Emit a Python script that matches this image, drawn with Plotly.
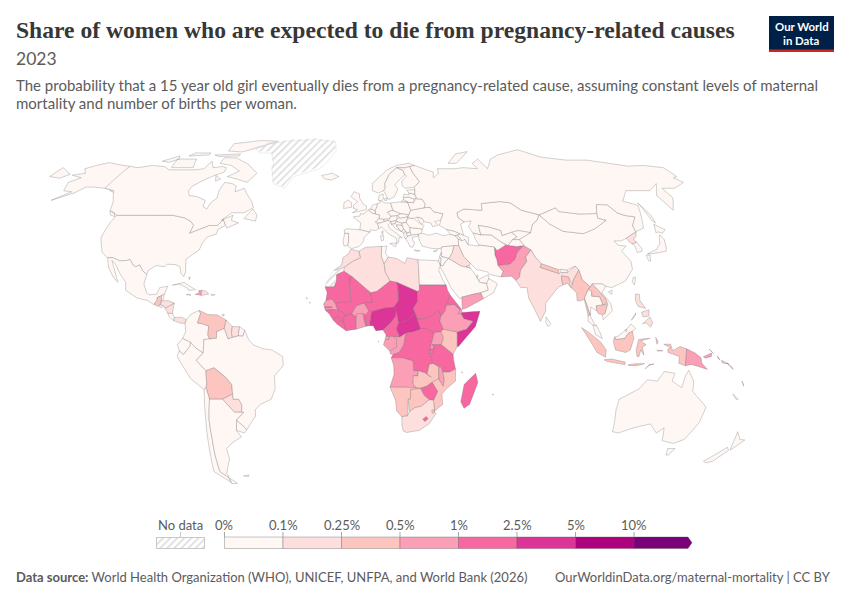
import base64
import numpy as np
import plotly.graph_objects as go

# NOTE: no basemap can be loaded offline, so GEOM below holds hand-approximated,
# simplified country outlines (lon,lat). They are not authoritative boundaries.

W, H = 850, 600
TITLE = "Share of women who are expected to die from pregnancy-related causes"
YEAR = "2023"
SUB1 = "The probability that a 15 year old girl eventually dies from a pregnancy-related cause, assuming constant levels of maternal"
SUB2 = "mortality and number of births per woman."
SOURCE = "<b>Data source:</b> World Health Organization (WHO), UNICEF, UNFPA, and World Bank (2026)"
SITE = "OurWorldinData.org/maternal-mortality | CC BY"

bin_edges = [0.1, 0.25, 0.5, 1, 2.5, 5, 10]
bin_labels = ["0%", "0.1%", "0.25%", "0.5%", "1%", "2.5%", "5%", "10%"]
bin_colors = ["#fff7f3", "#fde0dd", "#fcc5c0", "#fa9fb5", "#f768a1", "#dd3497", "#ae017e", "#7a0177"]

africa_codes = ["MAR","DZA","TUN","LBY","EGY","MRT","MLI","NER","TCD","SDN","SSD","NGA","SEN","GMB","GNB","GIN","SLE","LBR","CIV","GHA","TGO","BEN","BFA","CMR","CAF","GNQ","GAB","COG","COD","UGA","KEN","RWA","BDI","SOM","ETH","ERI","DJI","TZA","AGO","ZMB","MWI","MOZ","ZWE","NAM","BWA","ZAF","LSO","SWZ","MDG","CPV","COM","STP","MUS"]
africa_share = [.2,.15,.08,.15,.07,2.0,1.9,2.2,3.2,1.5,1.9,3.0,.7,1.1,1.5,1.7,1.5,1.5,1.3,.7,1.0,1.6,.9,1.2,3.5,.7,.6,.8,1.9,.8,.45,.6,1.2,3.3,.8,1.1,.7,1.4,.8,.4,.6,.4,1.1,.35,.4,.2,1.5,.35,1.3,.05,.5,.2,.05]
asia_codes = ["AFG","PAK","IND","NPL","BTN","BGD","LKA","MMR","THA","LAO","KHM","VNM","MYS","BRN","IDN","PHL","TLS","PNG","SLB","VUT","FJI","NCL","CHN","MNG","PRK","KOR","JPN","TWN","KAZ","UZB","TKM","KGZ","TJK","IRN","IRQ","SYR","JOR","LBN","ISR","SAU","KWT","QAT","ARE","OMN","YEM","GEO","AZE","ARM","TUR","CYP"]
asia_share = [1.8,.8,.17,.4,.09,.3,.03,.4,.04,.4,.4,.05,.04,.03,.35,.2,.4,.9,.4,.35,.09,.02,.02,.06,.15,.01,.01,.01,.03,.05,.03,.09,.08,.05,.15,.08,.05,.05,.01,.02,.01,.01,.01,.05,.7,.05,.06,.03,.03,.01]
america_codes = ["USA","CAN","MEX","GTM","BLZ","SLV","HND","NIC","CRI","PAN","CUB","HTI","DOM","JAM","PRI","BHS","TTO","COL","VEN","GUY","SUR","GUF","ECU","PER","BOL","PRY","CHL","ARG","URY","BRA","FLK"]
america_share = [.04,.02,.06,.3,.08,.05,.15,.15,.04,.15,.08,.7,.2,.15,.01,.08,.05,.08,.3,.2,.2,.01,.08,.07,.4,.13,.01,.05,.03,.06,.01]
europe_codes = ["ISL","IRL","GBR","NOR","SWE","FIN","DNK","DEU","NLD","BEL","FRA","ESP","PRT","CHE","ITA","AUT","CZE","POL","SVK","HUN","SVN","HRV","BIH","SRB","MNE","ALB","MKD","GRC","BGR","ROU","MDA","UKR","BLR","LTU","LVA","EST","RUS","AUS","NZL"]
europe_share = [.01,.01,.01,.01,.01,.01,.01,.01,.01,.01,.01,.01,.01,.01,.01,.01,.01,.01,.01,.01,.01,.01,.01,.02,.01,.02,.02,.01,.02,.03,.02,.03,.01,.01,.01,.01,.02,.01,.01]
no_data_codes = ["GRL","ESH"]

GEOM = {
"CAN":["-141,69.6 -135,69 -128,70 -120,69.5 -115,68 -108,68 -100,68 -95,68.5 -94,72 -90,69 -85,69.5 -82,69 -81.5,67 -87,65 -90,63.5 -94,61 -94.5,59 -92.5,57 -88,56.5 -82.5,55 -82,52.5 -79.5,51.5 -79,54 -77,56 -78,59 -77.5,62.5 -73,62 -70,61 -69,58.5 -65,60 -62,57.5 -58,54.5 -56,52 -60,50 -66,50 -70,47 -65,49 -65,47 -61,46 -66,44 -67,45 -69,47.3 -71,45 -75,45 -79,43.5 -83,42 -82.5,45 -84.5,46.5 -88.5,48 -95,49 -123,49 -128,51 -130,54.5 -135,59 -141,60",
"-80,73.5 -70,70.5 -62,66.5 -65,62.5 -72,64 -78,65 -73,67.5 -80,70 -88,71 -88,73.7","-117,73 -105,73 -102,69 -115,69","-90,77 -80,76.5 -72,79 -62,82.5 -75,83 -92,81","-125,72 -118,74.5 -116,73 -120,71.5","-96,75 -80,75.5 -80,74.5 -93,74.3","-59,47.7 -53,46.7 -53,49 -56,51.5","-128,50.7 -125,50 -123.5,48.5 -126,49","-110,76 -100,76 -100,75 -112,74.5","-85,65.5 -81,64 -83,63"],
"USA":["-123,49 -95,49 -88.5,48 -84.5,46.5 -82.5,45 -83,42 -79,43.5 -75,45 -71,45 -69,47.3 -67,45 -70,43.5 -70,41.7 -74,40.5 -75.5,38 -76,35.5 -81,32 -80,27 -80.5,25.2 -82,26.5 -83,29 -85,29.8 -89,30 -90,29 -94,29.5 -97,27.5 -97.2,26 -99.5,27.5 -101.5,29.7 -103,29 -104.5,29.7 -106.5,31.8 -108.2,31.4 -111,31.3 -114.8,32.5 -117.1,32.5 -120.5,34.5 -122.5,37.5 -124.3,40.4 -124,46",
"-141,69.6 -148,70.3 -156.5,71.3 -162,70 -166,68.5 -162,66.5 -168,65.6 -161,64.5 -165,62.5 -162,59 -157,58.5 -163,55 -155,58 -152,60.5 -148,60.5 -141,60 -135,59 -130,55.5 -133,58 -137,59","-155.9,20 -155,19.7 -155.6,19","-158.3,21.6 -157.7,21.3 -158,21.2"],
"GRL":["-73,78 -66,81 -55,82.5 -35,83.6 -20,82 -18,77 -22,72 -26,68.5 -40,65 -43,60 -50,62 -54,68 -55,71 -60,76 -68,76"],
"MEX":["-117.1,32.5 -114.8,32.5 -111,31.3 -108.2,31.4 -106.5,31.8 -104.5,29.7 -103,29 -101.5,29.7 -99.5,27.5 -97.2,26 -97.8,22.5 -96,19 -94.5,18.2 -91.5,18.5 -90.5,21 -87,21.5 -88,18.5 -89.2,17.9 -91,17.2 -91,16 -92.2,14.5 -95,16 -100,17 -105.5,20 -106,23 -109.5,26.5 -112.5,30 -114.7,31.5 -112,27.5 -109.5,23 -112,25 -115,28.5"],
"GTM":["-92.2,14.5 -91,16 -91,17.2 -89.2,17.9 -89,15.8 -89.3,14.4 -90.5,13.9"],
"BLZ":["-89.2,17.9 -88,18.5 -88.3,16.2 -89,15.9"],
"SLV":["-90,13.8 -89.3,14.4 -87.8,13.9 -88.5,13.2"],
"HND":["-89.3,14.4 -89,15.8 -86,16 -83.2,15 -85,14 -87,13 -87.8,13.9"],
"NIC":["-87,13 -85,14 -83.2,15 -83.7,11 -85.7,11.1"],
"CRI":["-85.7,11.1 -83.7,11 -82.6,9.5 -83,8.3 -85,9.8"],
"PAN":["-83,8.3 -82.6,9.5 -79.5,9.6 -77.3,8.6 -77.9,7.3 -80,7.3"],
"CUB":["-85,21.9 -80,23 -74.5,20.2 -77.5,19.9 -78,20.7 -82,22.4"],
"HTI":["-74.4,18.4 -71.7,18 -71.7,19.9 -73,19.9 -72.8,18.9"],
"DOM":["-71.7,18 -68.4,18.5 -69.9,19.7 -71.7,19.9"],
"JAM":["-78.3,18.3 -76.2,18 -77,18.5"],
"PRI":["-67.2,18.5 -65.6,18.3 -66,18 -67.2,18"],
"BHS":["-78.2,25 -77.7,24 -77.5,25"],
"TTO":["-61.9,10.1 -61,10.1 -61,10.8 -61.7,10.7"],
"COL":["-77.3,8.6 -75.5,10.8 -72,12.2 -71.3,11 -72.5,7.4 -70,7 -67.5,6.2 -67.8,2.8 -67,1.2 -69.5,1 -69.5,-1 -69.9,-4.2 -73,-2.3 -75.3,-0.1 -78.8,1.4 -77.5,4 -77.9,7.3"],
"VEN":["-71.3,11 -72,12.2 -68,10.6 -64,10.5 -60,8.5 -60.7,5.2 -64,4 -64,1.5 -67,1.2 -67.8,2.8 -67.5,6.2 -70,7 -72.5,7.4"],
"GUY":["-60,8.5 -57.2,6 -57.5,3.4 -57,1.8 -59,1.2 -60.7,5.2"],
"SUR":["-57.2,6 -54,5.9 -54.5,2.4 -57,1.8 -57.5,3.4"],
"GUF":["-54,5.9 -51.7,4.5 -52.5,2.3 -54.5,2.4"],
"ECU":["-78.8,1.4 -75.3,-0.1 -75.5,-1.6 -78.5,-4.8 -80.3,-3.4 -81,-1"],
"PER":["-80.3,-3.4 -78.5,-4.8 -75.5,-1.6 -75.3,-0.1 -73,-2.3 -69.9,-4.2 -73,-7 -70.5,-9.5 -69,-11 -69,-16 -69.5,-17.5 -70.4,-18.3 -76,-14 -81.3,-5.5"],
"BOL":["-69,-11 -65.4,-9.8 -60.5,-13.5 -58,-16.3 -58,-20 -62.7,-22 -66.3,-22 -68.5,-22 -69.5,-17.5 -69,-16"],
"PRY":["-58,-20 -62.7,-22 -58,-27 -54.7,-27 -54.3,-24 -55.5,-22 -57.9,-22"],
"CHL":["-70.4,-18.3 -69.5,-17.5 -68.5,-22 -70,-30 -70.5,-37 -71.5,-44 -72,-50 -69,-52.3 -68.5,-54.5 -75,-50 -73,-40 -71.5,-30"],
"ARG":["-66.3,-22 -62.7,-22 -58,-27 -54.7,-27 -53.8,-27 -57.5,-30 -58.4,-34 -56.7,-36.5 -62,-39 -65,-41 -65,-45 -69,-50.8 -68.5,-52.3 -69,-52.3 -72,-50 -71.5,-44 -70.5,-37 -70,-30 -68.5,-22","-68.5,-52.6 -65.5,-54.8 -68.5,-54.9"],
"URY":["-57.5,-30 -53.5,-33.7 -54.9,-35 -58.4,-34"],
"BRA":["-51.7,4.5 -50,1 -48,-1 -44,-2.5 -40,-3 -35.2,-5.5 -35,-9 -39,-13 -39,-18 -41,-22 -46,-24 -48.5,-26 -48.7,-28.5 -53.5,-33.7 -57.5,-30 -53.8,-27 -54.7,-27 -54.3,-24 -55.5,-22 -57.9,-22 -58,-20 -58,-16.3 -60.5,-13.5 -65.4,-9.8 -69,-11 -70.5,-9.5 -73,-7 -69.9,-4.2 -69.5,-1 -69.5,1 -67,1.2 -64,1.5 -64,4 -60.7,5.2 -59,1.2 -57,1.8 -54.5,2.4 -52.5,2.3"],
"FLK":["-61,-51.8 -58,-51.4 -58.5,-52"],
"ISL":["-24,65.5 -18,66.5 -14,65 -18,63.5 -22,64"],
"IRL":["-10,54 -8,55.2 -6,54 -6,52.2 -10,51.7"],
"GBR":["-5.5,50 1.5,51.2 1.7,52.7 0,53.5 -2,56 -2,57.6 -5,58.6 -6.5,56.5 -3,54.5 -5,53 -5,51.7 -3,51.3"],
"NOR":["5,59 5,62 14,68 20,70 28,71 31,70 28,69.5 25,68.9 20,69 15,66 12,62 12,60 11,59 8,58"],
"SWE":["11,59 12,60 12,62 15,66 20,69 23.5,67.8 24,65.8 21,64 17.5,61.5 18.8,59.7 16.5,56.5 14,55.5 13,55.5"],
"FIN":["20,69 25,68.9 28,69.5 29,66.5 31.5,62.8 28,60.5 23,60 21.5,61 21.5,63 25,65.3 24,65.8 23.5,67.8"],
"DNK":["8,55 8.3,57 10.6,57.7 10.5,55.5 9.5,54.8","11,55.7 12.5,56 12.3,55 11,55"],
"DEU":["7,53.6 8.7,54 8.5,54.9 9.5,54.8 11,54 14.2,53.9 14.7,52 15,51 12.2,50.3 13.8,48.7 13,47.5 10,47.4 7.6,47.6 8.2,49 6.2,49.5 6,51 7,52.5"],
"NLD":["3.4,51.4 4.7,53 7,53.6 7,52.5 6,51 5.8,50.8 4.5,51.4"],
"BEL":["2.5,51.1 3.4,51.4 4.5,51.4 5.8,50.8 6,50.2 5.8,49.5 4.2,50"],
"FRA":["2.5,51.1 4.2,50 5.8,49.5 6.2,49.5 8.2,49 7.6,47.6 6,46.3 7,45.9 7.5,43.8 6,43 3.5,43.3 3.2,42.4 -1.7,43.3 -1.2,46 -4.5,47.9 -4.7,48.5 -1.6,48.7 -1.5,49.7 0.2,49.5","8.6,42.5 9.5,42.9 9.3,41.4"],
"ESP":["-1.7,43.3 3.2,42.4 0.5,40.5 0,38.7 -2,36.8 -5.5,36 -7.4,37.2 -7,38.5 -7,41.9 -8.9,41.9 -9.2,43.2 -8,43.7"],
"PRT":["-8.9,41.9 -7,41.9 -7,38.5 -7.4,37.2 -9,37 -9.5,38.8"],
"CHE":["6,46.3 7.6,47.6 10,47.4 10.4,46.6 8.5,46 7,45.9"],
"ITA":["7,45.9 8.5,46 10.4,46.6 12.2,47 13.7,46.5 12.3,45.3 12.5,44 16,41.9 18.5,40.2 17,40.5 16.6,38.5 15.7,38 15.7,40 12.5,41.5 10.5,43 8.8,44.4 7.5,43.8","12.4,38 15.6,38.2 15,36.7","8.2,41 9.7,41 9.5,39.2 8.5,39"],
"AUT":["10,47.4 13,47.5 13.8,48.7 17,48.9 16.3,47 13.7,46.5 12.2,47 10.4,46.6"],
"CZE":["12.2,50.3 15,51 18.8,49.6 17,48.9 13.8,48.7"],
"POL":["14.2,53.9 19,54.4 23,54.3 24,51 22.8,49.2 18.8,49.6 15,51 14.7,52"],
"SVK":["17,48.9 18.8,49.6 22.5,49.2 22.1,48.4 18.5,47.8"],
"HUN":["16.3,47 17,48 18.5,47.8 22.1,48.4 21,46.2 18.8,45.9 16.6,46.5"],
"SVN":["13.7,46.5 16.3,46.8 15.4,45.6 13.6,45.5"],
"HRV":["13.6,45.5 15.4,45.6 16.6,46.5 18.8,45.9 19,45 16,45.2 17.5,43.2 18.5,42.5 15.5,43.7 14.5,45"],
"BIH":["16,45.2 19,45 19.5,43.6 18.5,42.6 17.5,43.2"],
"SRB":["18.8,45.9 21,46.2 22.6,44.5 22.5,42.5 20.8,42.2 19.5,43.6 19,45"],
"MNE":["18.5,42.6 19.5,43.6 20.3,42.8 19.3,41.9"],
"ALB":["19.3,41.9 20.3,42.8 21,40.7 20,39.7 19.4,40.5"],
"MKD":["20.6,41.9 22.5,42.3 23,41.3 21,40.8"],
"GRC":["21,40.7 23,41.3 26.3,41.6 26,40.8 23,40.3 24,38 23,36.5 21.7,36.8 21,38.4 20,39.7","23.6,35.5 26.3,35.2 24.5,34.95"],
"BGR":["22.5,42.3 22.6,44.2 28.5,43.6 27.8,42 26.3,41.6 23,41.3"],
"ROU":["21,46.2 22.1,48 24.9,47.8 28.2,45.5 29.6,45 28.5,43.6 22.6,44.2"],
"MDA":["26.6,48.3 29,47.9 30,46.4 28.2,45.5"],
"UKR":["24,51 22.8,49.2 22.1,48 24.9,47.8 26.6,48.3 29,47.9 30,46.4 33,46 33.6,44.5 36.5,45.2 35,46.5 38.2,47.1 40,49.6 35.5,50.4 34,52.3 31,52"],
"BLR":["24,51 31,52 32,53.5 30.8,55.5 27.5,55.7 26,54 23,54.3"],
"LTU":["21,55.3 21,56.2 24,56.3 26.6,55.6 26,54 23,54.3"],
"LVA":["21,56.2 21.7,57.6 24.3,57.2 24.4,58 27.5,57.5 28,56 26.6,55.6 24,56.3"],
"EST":["23.5,59.2 28,59.5 27.5,57.5 24.4,58"],
"TUR":["26.3,41.6 28,42 31,41.2 35,42 38,41 41.5,41.5 43.5,41 44.8,39.7 44.5,37.2 42.3,37.2 36.5,36.7 36,36 32.5,36 30.5,36.3 27.5,37 26.3,39.5"],
"CYP":["32.3,35 34.5,35.6 33.5,34.7"],
"RUS":["28,59.5 28,60.5 31.5,62.8 29,66.5 28,69.5 31,70 41,67 40,64.5 44,66.5 44,68.5 54,68.5 60,69 68,68.5 67,71 72,73 74,68.5 80,73 87,75 104,77.7 113,74 127,72.5 140,72.5 160,69.7 170,70 179.9,69 179.9,65 177,64.5 179,62.5 170,60 163,60 163,56 156.7,51 155.7,57 163,62 155,59 142,59 135,54.7 141,53 135.5,44 131,42.6 130.6,42.4 131,45 135,48.4 130.5,48.9 127.5,50 125.5,53.2 120,53.3 117,49.7 108,49.5 98.5,50.5 98,52 87.8,49.2 80,51 76,54 71,54.5 61,53.7 60,51 51,51.5 47,50 47,48 49.5,46.4 47.5,45.5 47.7,41.2 43.5,42.8 40,43.5 37,45 38.2,47.1 40,49.6 35.5,50.4 34,52.3 31,52 32,53.5 30.8,55.5 27.5,55.7 28,56 27.5,57.5","142,54 143.5,49 143,46 142,47","52,71 57,71 69,76.7 60,75.5","-179.9,69 -170,66 -173,64.3 -179.9,65","19.8,54.4 23,54.3 21,55.3"],
"KAZ":["47,50 51,51.5 60,51 61,53.7 71,54.5 76,54 80,51 87.8,49.2 85.5,47 82.5,45.5 80,42.2 74.5,43 71,42.3 66,41 66,43 61,44.3 56,45 56,41.3 52.5,42 51,44.5 53,46.8 49.5,46.4 47,48"],
"UZB":["56,45 61,44.3 66,43 66,41 71,42.3 73,40.5 70.5,39.5 67.5,37.2 64,39 61,41.2 57,41.3 56,41.3"],
"TKM":["52.5,42 56,41.3 57,41.3 61,41.2 64,39 66.5,37.4 62,35.3 61,36.6 54,37.4 53,39.5"],
"KGZ":["71,42.3 74.5,43 80,42.2 73.5,39.5 70.5,39.5 73,40.5"],
"TJK":["67.5,37.2 70.5,39.5 73.5,39.5 75,37.2 71.5,36.8 68,37.2"],
"AFG":["61,36.6 62,35.3 66.5,37.4 68,37.2 71.5,36.8 74.8,37.2 71,34.5 70,33 69.3,31.8 66.5,30 61,29.5 61,31.5 60.5,33.5"],
"PAK":["61,29.5 66.5,30 69.3,31.8 70,33 71,34.5 74.8,37 77.8,35.5 74.5,32.8 74.5,31 71,27.8 70,25 68.2,23.7 66.5,25.4 61.6,25.1 63,27.2"],
"IRN":["44.8,39.7 48,39.6 49,37.5 54,37 54,37.4 61,36.6 60.5,33.5 61,31.5 61,29.5 63,27.2 61.6,25.1 57,26 56,27 51,28 48.7,30.3 46,33 44.5,37.2"],
"IRQ":["42.3,37.2 44.5,37.2 46,33 48.7,30.3 48,29.5 46.5,29 44.5,29.2 39,32.2 41,34.4"],
"SYR":["36.5,36.7 42.3,37.2 41,34.4 39,32.2 36,33 36,35"],
"JOR":["39,32.2 37.5,31 36,29.3 35,29.5 35.5,32.4 36,33"],
"LBN":["35.1,33.1 36,33.9 36,34.6"],
"ISR":["34.3,31.3 35,33 35.5,32.4 35,29.5"],
"SAU":["34.8,29 35,29.5 36,29.3 37.5,31 39,32.2 44.5,29.2 46.5,29 48.4,28.5 50,26.5 51,24.5 52,23 55,22.5 55.5,20 52,19 49,18.5 43.5,17.3 42.7,16.5 39,21 37,25"],
"KWT":["46.5,29 48,29.5 48.4,28.5"],
"QAT":["51,26 51.6,25.5 51,24.6"],
"ARE":["51.6,24.2 56.3,26 56.2,24.5 55.5,22.7 52,23"],
"OMN":["56.2,24.5 59.8,22.5 57.7,19 53,16.7 52,19 55.5,20 55,22.5"],
"YEM":["43.5,17.3 49,18.5 52,19 53,16.7 45,13 43.5,12.7"],
"GEO":["40,43.5 43.5,42.8 46.4,41.8 43.5,41 41.5,41.5"],
"AZE":["46.4,41.8 47.7,41.2 50,40.3 49,37.5 48,39.6 46.5,39 45,41"],
"ARM":["43.5,41 45,41 46.5,39 44.8,39.7"],
"IND":["68.2,23.7 70,25 71,27.8 74.5,31 74.5,32.8 77.8,35.5 79,32.5 81,30.2 80,28.8 88,26.4 89,26.8 92,26.9 96,29.3 97.3,27.8 94,24 93,22 92,25 89,25.5 88.7,24 89,22 87,21.3 85,19.5 80.3,15 80,12 77.5,8 76,11 73,17 72.8,21 70,21 69,22.5"],
"NPL":["80,28.8 81,30.2 88.2,27.9 88,26.4"],
"BTN":["89,26.8 89,28 92,27.8 92,26.9"],
"BGD":["89,25.5 92,25 92.3,21 91,22.7 89,22 88.7,24"],
"LKA":["80,9.7 82,7 80.7,6 79.8,7.5"],
"CHN":["73.5,39.5 80,42.2 82.5,45.5 85.5,47 87.8,49.2 91,45.5 96,42.7 105,41.8 111.7,43.7 119.5,47 116,47.8 117,49.7 120,53.3 125.5,53.2 127.5,50 130.5,48.9 135,48.4 131,45 130.6,42.4 128,41.5 124.4,40 121.5,39 118,39 119,37.3 122.5,37 119.5,35 122,31 121.5,28 117,23.5 110.5,21 108,21.5 106.5,22.5 102,22.5 101,21.3 98,24 97.3,27.8 96,29.3 92,27.8 89,28 88.2,27.9 81,30.2 79,32.5 77.8,35.5 75,37.2","108.7,19.3 110.5,20 110,18.4"],
"TWN":["121,25 122,25 120.8,22 120,23"],
"MNG":["87.8,49.2 98,52 98.5,50.5 108,49.5 117,49.7 116,47.8 119.5,47 111.7,43.7 105,41.8 96,42.7 91,45.5"],
"PRK":["124.4,40 128,41.5 130.6,42.4 129.7,41 127.5,39.5 128.4,38.5 126,37.8 125,38.5"],
"KOR":["126,37.8 128.4,38.5 129.4,36 129,35 126.4,34.5 126.7,37"],
"JPN":["130.9,34 136,35.7 139,38 140,40 141.3,41.4 142,39.5 140.8,36 140,35 136.8,34.5 132.5,34","130,33.5 131.8,33.5 131,31.2 130.2,31.3","140,42 141.7,45.5 145.3,43.3 143,42 141,42.5"],
"MMR":["92.3,21 93,22 94,24 97.3,27.8 98,24 101,21.3 100,20.4 97.7,17 98.5,14 99.5,10.5 98.5,10 97.5,16.5 95.5,15.8 94.3,16 94.5,19"],
"THA":["97.7,17 100,20.4 101.3,19.5 101,17.7 104.5,17.5 105.5,14.3 102.5,14 102.5,12 100,13.5 99.5,10 101,7 102,6.2 100.3,6.6 98.3,8 98.5,10 99.5,10.5 98.5,14"],
"LAO":["102,22.5 104.5,19.8 107,16.8 107.5,15 105.5,14.3 104.5,17.5 101,17.7 101.3,19.5 100,20.4 101,21.3"],
"KHM":["102.5,14 105.5,14.3 107.5,14.5 106,11 104.8,10.5 103,11 102.5,12"],
"VNM":["102,22.5 106.5,22.5 108,21.5 105.7,19 108.9,15 109.3,12 105,8.6 104.8,10.5 106,11 107.5,14.5 107.5,15 107,16.8 104.5,19.8"],
"MYS":["100.3,6.6 102,6.2 103.4,3.5 104.2,1.4 101.3,2.9","109.6,2 111,2.2 115,5 117,7 119,5.3 117.5,4.2 115.5,3.3 114,1.4 110,1"],
"BRN":["114.1,4.6 115,5 115,4"],
"IDN":["95.3,5.6 98,4 103.5,0 106,-3 105.8,-5.8 102,-4 98.5,1","105.2,-6.8 108.5,-6.5 114.5,-7.7 114.4,-8.7 106.4,-7.4","109.6,2 109,0.3 110,-3 114.5,-4 116.5,-3 117.7,0.8 118,1 117.5,4.2 115.5,3.3 114,1.4 110,1","119.5,-5.5 119,-3 120,1 125,1.5 121,0.5 123.3,-1 121.7,-2 122.5,-5 121,-3 120.4,-5.6","116,-8.7 119,-8.3 123,-8.3 120,-9 116,-9","123.5,-10.3 125,-9 124.5,-9.3","131,-0.8 134,-0.8 135,-3.3 138,-1.7 141,-2.6 141,-9.1 138,-8.2 138,-5.5 133,-4 132.8,-2.7 134,-2.2","127.5,1.8 128.6,0 128,-0.8","128,-3.1 130.8,-3.3 128.5,-3.5"],
"TLS":["125,-9 127.2,-8.4 125,-8.6"],
"PNG":["141,-2.6 145,-4.3 147.5,-6 148,-8 150.8,-10.5 147,-9.5 143.5,-8.6 141,-9.1","148.5,-5.6 152,-4.2 152,-5.5 149.5,-6.2","150.8,-2.7 152.8,-4.3 152.3,-3.8","154.6,-5.3 155.9,-6.9 155.1,-6.4"],
"SLB":["156.5,-7 160,-8.5 157,-8","159,-8 162,-10.5 161.5,-9.7"],
"VUT":["166.7,-15 167.5,-16 168,-17"],
"NCL":["164,-20 167,-22 166,-22"],
"FJI":["177.3,-17.5 178.6,-18 177.5,-18.3"],
"PHL":["120.5,18.5 122.2,18.4 122,16 124,13 120.8,13.8 120,16","122,7 125.5,9.7 126.5,7.5 125.5,5.8 123.5,7.5","122,11.5 125.5,12.5 125,10 122.5,9.7","117.2,8.4 119.5,11.3 119.2,10.3"],
"AUS":["114,-22 113.5,-26 115,-34.5 118,-35 124,-33 131,-31.5 135.5,-35 138,-33 140,-38 146,-39 150,-37.5 153,-31 153.5,-25 146,-19 145.5,-15 142.6,-10.8 141.5,-13 140.7,-17.5 136,-15 136.7,-12 132,-11.3 129.5,-15 125,-14.5 122,-18","144.7,-41 148.3,-41 147,-43.6 146,-43.5"],
"NZL":["172.8,-34.5 176,-37.5 178.5,-37.7 175,-41.6 174,-39.5","172.7,-40.5 174.3,-41.7 171,-45.9 168.5,-46.6 166.5,-46"],
"MAR":["-5.9,35.8 -2,35 -1.2,32.5 -5,31 -8.7,28.7 -13,27.7 -9.8,29.8 -9.3,32.5 -6.8,34"],
"ESH":["-13,27.7 -8.7,27.7 -8.7,27.3 -12,26 -12,23.5 -13,21.3 -17,21.3 -16,23.5 -14.5,26"],
"DZA":["-2,35 1,36.5 8.6,36.9 8.3,33 9.5,30.2 9.9,27 12,23.5 6,19.5 3.3,19 -4.8,25 -8.7,27.3 -8.7,28.7 -5,31 -1.2,32.5"],
"TUN":["8.6,36.9 11,37 10.2,34.3 11.5,32.7 9.5,30.2 8.3,33"],
"LBY":["11.5,32.7 15,32.3 19,30.3 20,32.5 25,31.7 25,20 24,19.5 15,23 12,23.5 9.9,27 9.5,30.2"],
"EGY":["25,31.7 31,31.5 34.3,31.3 35,29.5 34,27.8 35.5,23.9 36.9,22 25,22"],
"SDN":["24,19.5 25,20 25,22 36.9,22 37.4,20 38.5,18 36.5,14.3 36,12 34,10 32.9,12 29.5,9.8 26.5,9 23.5,9 22.8,11 22,13 24,15.7"],
"SSD":["23.5,9 26.5,9 29.5,9.8 32.9,12 34,10 33.5,8 35,5 33.9,4 31,3.6 27.5,5 25,5"],
"MRT":["-17,21.3 -13,21.3 -12,23.5 -12,26 -8.7,27.3 -4.8,25 -6,25 -5.5,15.5 -9,15.5 -12.3,14.8 -14,16.6 -16.5,16 -16,19"],
"MLI":["-12.3,14.8 -9,15.5 -5.5,15.5 -6,25 -4.8,25 3.3,19 4,15 0.3,15 -3,14 -5,10.9 -7.6,10.2 -8.3,11 -11.3,12.2"],
"NER":["3.3,19 6,19.5 12,23.5 15,23 15.5,20 15.5,16 13.6,13.5 9,13 3.6,11.7 2.4,12 0.3,15 4,15"],
"TCD":["15,23 24,19.5 24,15.7 22,13 22.8,11 18.5,8 15.5,7.6 14.2,10 14.2,12.8 13.6,13.5 15.5,16 15.5,20"],
"NGA":["2.7,6.3 3.6,11.7 9,13 13.6,13.5 14.2,12.8 14.2,10 12,7.5 8.6,4.7 5.5,4.4 4.3,6.3"],
"BEN":["1.6,6.2 0.9,10.5 2.4,12 3.6,11.7 2.7,6.3"],
"TGO":["1.2,6.1 1.6,6.2 0.9,10.5 0,11 0.5,8"],
"BFA":["-5,10.9 -3,14 0.3,15 2.4,12 0.9,10.5 0,11 -2.9,11 -3,9.9"],
"GHA":["-3.1,5 1.2,6.1 0.5,8 0,11 -2.9,11 -3,9.9"],
"CIV":["-7.5,4.4 -3.1,5 -3,9.9 -5,10.9 -7.6,10.2 -8.3,10 -8.4,7.6"],
"LBR":["-11.4,6.9 -7.5,4.4 -8.4,7.6 -10.2,8.5"],
"SLE":["-13.2,8.5 -11.4,6.9 -10.2,8.5 -11,10"],
"GIN":["-15,11 -13.2,8.5 -11,10 -10.2,8.5 -8.4,7.6 -8.3,10 -7.6,10.2 -8.3,11 -11.3,12.2 -13.7,12.6"],
"GNB":["-16.7,12.3 -15,11 -13.7,12.6"],
"SEN":["-17.5,14.7 -16.5,16 -14,16.6 -12.3,14.8 -11.3,12.2 -13.7,12.6 -16.7,12.3"],
"GMB":["-16.8,13.6 -13.8,13.6 -13.8,13.3 -16.8,13.2"],
"CMR":["8.6,4.7 12,7.5 14.2,10 14.2,12.8 15,10 15.5,7.6 14.5,5 16,2 10,2.2 9.8,3"],
"CAF":["14.5,5 15.5,7.6 18.5,8 22.8,11 23.5,9 25,5 22,4 18.6,3.5 16,2"],
"GNQ":["9.8,2.2 11.3,2.2 11.3,1 9.5,1"],
"GAB":["9.5,1 11.3,1 11.3,2.2 13.3,2.2 14.5,1 14.5,-2 11.6,-3.5 8.8,-1"],
"COG":["11.6,-3.5 14.5,-2 14.5,1 13.3,2.2 16,2 18.6,3.5 17.7,-1 15.7,-4 13,-4.8 11.8,-4.6"],
"COD":["12.2,-6 13,-4.8 15.7,-4 17.7,-1 18.6,3.5 22,4 25,5 27.5,5 31,3.6 29.6,-1 29,-4 30.5,-8.2 28.9,-8.5 28,-12.4 29.8,-13.4 27,-11.8 24,-11 22,-11 21.8,-7.3 17,-6"],
"UGA":["31,3.6 33.9,4 35,1.7 34,-1 30,-1 29.6,-1"],
"RWA":["29.6,-1.4 30.5,-1.1 30.8,-2.4 29,-2.8"],
"BDI":["29,-2.8 30.8,-2.4 30.5,-4.4 29.5,-4.4"],
"KEN":["35,5 41,3.9 41,-1.7 39.2,-4.7 34,-1 35,1.7 33.9,4"],
"SOM":["43,11.4 51.2,11.9 49,6 45,2 41.5,-1.7 41,-1.7 41,3.9 45,5 48,8 44,9 42.9,10.9"],
"ETH":["33.5,8 34,10 36,12 36.5,14.3 38.5,14.4 40,14.5 42.4,12.5 41.8,11 42.9,10.9 44,9 48,8 45,5 41,3.9 35,5"],
"ERI":["36.5,14.3 38.5,18 43.1,12.7 42.4,12.5 40,14.5 38.5,14.4"],
"DJI":["42.4,12.5 43.3,12.5 43.2,11.5 42.9,10.9 41.8,11"],
"TZA":["30,-1 34,-1 39.2,-4.7 39.5,-7 40.4,-10.4 38,-11.5 34.9,-11.6 34,-9.5 33,-9.5 30.5,-8.2 29,-4 29.5,-4.4 30.5,-4.4 30.8,-2.4 30.5,-1.1"],
"AGO":["12.2,-6 17,-6 21.8,-7.3 22,-11 24,-11 24,-13 22,-13 22,-16.2 23.4,-17.6 18.5,-17.4 14,-17.4 11.8,-17.3 13.5,-12.5 13.3,-9"],
"ZMB":["22,-13 24,-13 24,-11 27,-11.8 29.8,-13.4 28,-12.4 28.9,-8.5 30.5,-8.2 33,-9.5 33.2,-14 30.3,-15.5 28,-17 25.3,-17.8 23.4,-17.6 22,-16.2"],
"MWI":["33,-9.5 34,-9.5 34.9,-11.6 35.7,-14.5 35.3,-17 33.3,-14.5 33.2,-14"],
"MOZ":["34.9,-11.6 38,-11.5 40.4,-10.4 40.6,-15 36.8,-18 34.9,-20 35.5,-24 32.8,-25.9 32,-26.8 31.3,-22.4 32.9,-19 30.3,-15.5 33.2,-14 33.3,-14.5 35.3,-17 35.7,-14.5"],
"ZWE":["25.3,-17.8 28,-17 30.3,-15.5 32.9,-19 31.3,-22.4 29.4,-22.2 27,-20.5"],
"NAM":["11.8,-17.3 14,-17.4 18.5,-17.4 23.4,-17.6 25.3,-17.8 21,-18.3 21,-22 20,-22 20,-28.4 17.4,-28.7 15,-26.5 14.4,-22.5"],
"BWA":["20,-22 21,-22 21,-18.3 25.3,-17.8 27,-20.5 29.4,-22.2 26,-24.7 23,-25.3 20.7,-26.8"],
"ZAF":["17.4,-28.7 20,-28.4 20.7,-26.8 23,-25.3 26,-24.7 29.4,-22.2 31.3,-22.4 32,-26.8 32.8,-27.5 30,-31.5 25.7,-34 20,-34.8 18.4,-34.2 17.7,-32"],
"LSO":["27,-29.7 28.5,-28.6 29.4,-29.5 28,-30.6"],
"SWZ":["30.8,-26.1 32,-26.2 32,-27.3 31,-27.4"],
"MDG":["49.3,-12 50.5,-15.5 47.5,-24 45.2,-25.5 43.5,-23 44.5,-16.3"],
"CPV":["-25.3,17.1 -24.6,16.9 -25,16.6","-23.8,15.3 -23.2,15.2 -23.5,14.9"],
"COM":["43.2,-11.4 43.5,-11.9 43.3,-11.9"],
"STP":["6.5,0.4 6.8,0.2 6.5,0"],
"MUS":["57.3,-20 57.8,-20.1 57.5,-20.5"],
}


def parse(ring):
    return [[float(a) for a in p.split(",")] for p in ring.split()]


def densify(pts, step=2.0):
    out = []
    for i, p in enumerate(pts):
        q = pts[(i + 1) % len(pts)]
        n = max(1, int(max(abs(q[0] - p[0]), abs(q[1] - p[1])) / step))
        for k in range(n):
            out.append([p[0] + (q[0] - p[0]) * k / n, p[1] + (q[1] - p[1]) * k / n])
    return out


def clockwise(pts):
    a = np.array(pts)
    area = np.sum(a[:, 0] * np.roll(a[:, 1], -1) - np.roll(a[:, 0], -1) * a[:, 1])
    return pts if area < 0 else pts[::-1]


def country_lonlat(code):
    lon, lat = [], []
    for ring in GEOM[code]:
        r = clockwise(densify(parse(ring)))
        r = r + [r[0]]
        lon += [p[0] for p in r] + [None]
        lat += [p[1] for p in r] + [None]
    return lon[:-1], lat[:-1]


codes = africa_codes + asia_codes + america_codes + europe_codes
shares = africa_share + asia_share + america_share + europe_share
assert len(africa_codes) == len(africa_share) and len(asia_codes) == len(asia_share)
assert len(america_codes) == len(america_share) and len(europe_codes) == len(europe_share)
# small enclaves are drawn after the countries around them
order = sorted(range(len(codes)), key=lambda i: codes[i] in ("GMB", "LSO", "SWZ"))
codes = [codes[i] for i in order]
shares = [shares[i] for i in order]
bins = np.digitize(shares, bin_edges)

fig = go.Figure()
for c in no_data_codes:
    lon, lat = country_lonlat(c)
    fig.add_trace(go.Scattergeo(lon=lon, lat=lat, mode="lines", fill="toself", fillcolor="#ffffff",
                                line=dict(color="#dddddd", width=0.5), hoverinfo="skip", name=c))
for c, b in zip(codes, bins):
    lon, lat = country_lonlat(c)
    fig.add_trace(go.Scattergeo(lon=lon, lat=lat, mode="lines", fill="toself", fillcolor=bin_colors[b],
                                line=dict(color="rgba(105,105,105,0.6)", width=0.5), hoverinfo="skip", name=c))

MAP_RIGHT, MAP_TOP, MAP_BOTTOM = 779, 137.5, 487
fig.update_geos(
    visible=False, bgcolor="rgba(0,0,0,0)",
    projection=dict(type="robinson", rotation=dict(lon=0, lat=0), scale=1.05),
    center=dict(lon=11.5, lat=11.5),
    lonaxis_range=[-157, 180], lataxis_range=[-56, 84],
    domain=dict(x=[0, MAP_RIGHT / W], y=[1 - MAP_BOTTOM / H, 1 - MAP_TOP / H]),
)

# ---- pixel helpers -------------------------------------------------------
X0, Y0, KX, KY = 363.0, 342.0, 2.31, 211.0
LATS = np.arange(0, 95, 5)
AA = [1, .9986, .9954, .99, .9822, .973, .96, .9427, .9216, .8962, .8679, .835, .7986, .7597, .7186, .6732, .6213, .5722, .5322]
BB = [0, .062, .124, .186, .248, .31, .372, .434, .4958, .5571, .6176, .6769, .7346, .7903, .8435, .8936, .9394, .9761, 1]


def robinson_px(lon, lat):
    a = np.interp(abs(lat), LATS, AA)
    b = np.interp(abs(lat), LATS, BB) * np.sign(lat)
    return X0 + KX * lon * a, Y0 - KY * b


def px(x):
    return x / W


def py(y):
    return 1 - y / H


# hatch for "No data" regions and the legend swatch, as one transparent overlay image
clip = ""
for c in no_data_codes:
    for ring in GEOM[c]:
        clip += "M" + " L".join("%.1f %.1f" % robinson_px(*p) for p in densify(parse(ring))) + " Z "
svg = f'''<svg xmlns="http://www.w3.org/2000/svg" width="{W}" height="{H}" viewBox="0 0 {W} {H}">
<defs><pattern id="h" width="5" height="5" patternUnits="userSpaceOnUse" patternTransform="rotate(45)">
<rect width="1.6" height="5" fill="#dcdcdc"/></pattern>
<clipPath id="c"><path d="{clip}"/></clipPath></defs>
<rect width="{W}" height="{H}" fill="url(#h)" clip-path="url(#c)"/>
<rect x="156.5" y="537.5" width="48" height="11" fill="url(#h)" stroke="#c8c8c8"/>
</svg>'''
src = "data:image/svg+xml;base64," + base64.b64encode(svg.encode()).decode()
fig.add_layout_image(source=src, xref="paper", yref="paper", x=0, y=1, sizex=1, sizey=1,
                     xanchor="left", yanchor="top", sizing="stretch", layer="above")

# ---- colour legend -------------------------------------------------------
LEG_X0, LEG_STEP, LEG_Y0, LEG_Y1 = 224.5, 58.5, 537, 548.5
shapes = []
for i, col in enumerate(bin_colors):
    xa = LEG_X0 + i * LEG_STEP
    xb = xa + LEG_STEP
    if i < len(bin_colors) - 1:
        shapes.append(dict(type="rect", xref="paper", yref="paper", x0=px(xa), x1=px(xb), y0=py(LEG_Y1), y1=py(LEG_Y0),
                           fillcolor=col, line=dict(color="rgba(90,90,90,0.35)", width=1)))
    else:
        path = f"M {px(xa)} {py(LEG_Y0)} L {px(xa + 54)} {py(LEG_Y0)} L {px(xa + 58)} {py((LEG_Y0 + LEG_Y1) / 2)} L {px(xa + 54)} {py(LEG_Y1)} L {px(xa)} {py(LEG_Y1)} Z"
        shapes.append(dict(type="path", xref="paper", yref="paper", path=path, fillcolor=col,
                           line=dict(color="rgba(90,90,90,0.35)", width=1)))
    shapes.append(dict(type="line", xref="paper", yref="paper", x0=px(xa), x1=px(xa), y0=py(LEG_Y0), y1=py(LEG_Y0 - 5),
                       line=dict(color="#a8a8a8", width=1)))
shapes.append(dict(type="line", xref="paper", yref="paper", x0=px(180.5), x1=px(180.5), y0=py(537), y1=py(532),
                   line=dict(color="#c8c8c8", width=1)))
# logo
shapes.append(dict(type="rect", xref="paper", yref="paper", x0=px(769), x1=px(834), y0=py(52), y1=py(16),
                   fillcolor="#002147", line_width=0))
shapes.append(dict(type="rect", xref="paper", yref="paper", x0=px(769), x1=px(834), y0=py(52), y1=py(49.5),
                   fillcolor="#ce261e", line_width=0))
fig.update_layout(shapes=shapes)


def text(x, y, s, size, color, family="Lato", anchor="left"):
    fig.add_annotation(x=px(x), y=py(y), xref="paper", yref="paper", text=s, showarrow=False, xanchor=anchor,
                       yanchor="middle", borderpad=0, borderwidth=0, align=anchor,
                       font=dict(family=family, size=size, color=color))


text(16, 30, f"<b>{TITLE}</b>", 23.6, "#373737", "Liberation Serif")
text(16, 58, YEAR, 17.5, "#5b5b5b")
text(16, 85, SUB1, 15, "#5b5b5b")
text(16, 103, SUB2, 15, "#5b5b5b")
text(16, 577, SOURCE, 13, "#5b5b5b")
text(831, 577, SITE, 13, "#5b5b5b", anchor="right")
text(801.5, 26, "<b>Our World</b>", 11.4, "#ffffff", anchor="center")
text(801.5, 40.5, "<b>in Data</b>", 11.4, "#ffffff", anchor="center")
text(180.5, 525, "No data", 13, "#5b5b5b", anchor="center")
for i, lab in enumerate(bin_labels):
    text(LEG_X0 + i * LEG_STEP, 525, lab, 13, "#5b5b5b", anchor="center")

fig.update_layout(width=W, height=H, margin=dict(l=0, r=0, t=0, b=0), paper_bgcolor="white",
                  plot_bgcolor="white", showlegend=False, autosize=False)
fig.write_html("out.html", config={"displayModeBar": False},
               post_script="document.body.style.margin='0';document.documentElement.style.overflow='hidden';")
